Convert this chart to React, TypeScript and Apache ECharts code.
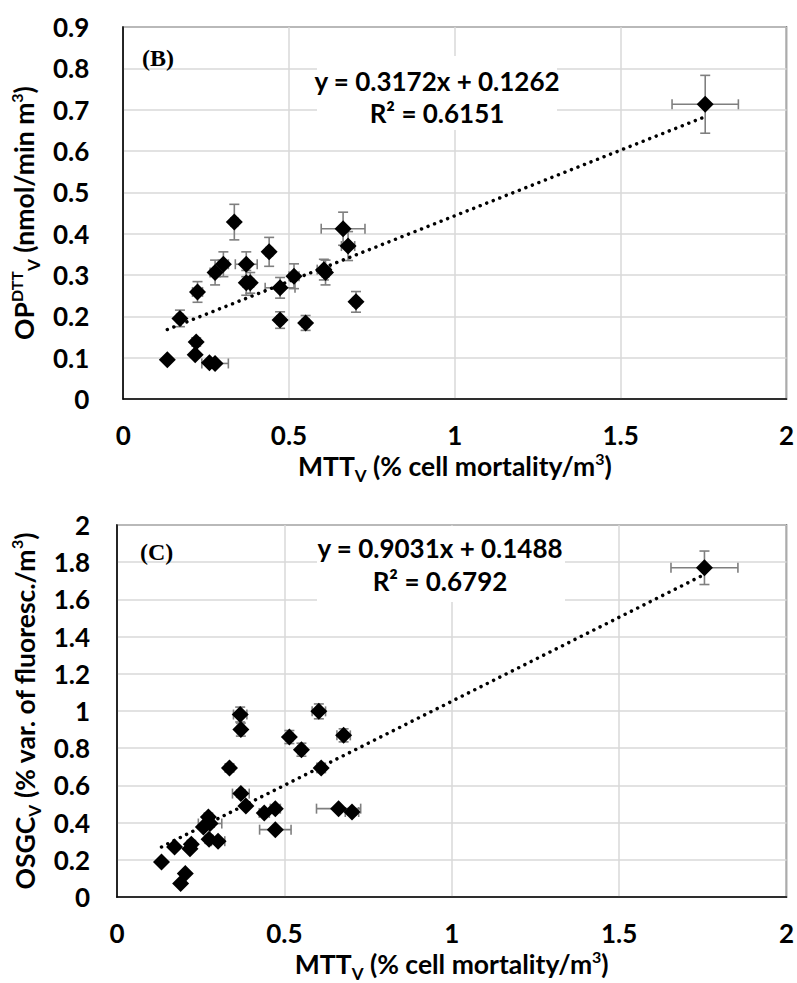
import React, { useEffect, useRef } from "react";
import * as echarts from "echarts";

// ---- Data ----
// Panel B: MTT_V vs OP^DTT_V
const bX = [0.133, 0.171, 0.22, 0.217, 0.26, 0.277, 0.224, 0.277, 0.302, 0.335, 0.371, 0.383, 0.371, 0.44, 0.473, 0.473, 0.515, 0.55, 0.605, 0.61, 0.663, 0.678, 0.702, 1.755];
const bY = [0.095, 0.195, 0.138, 0.107, 0.088, 0.086, 0.259, 0.306, 0.326, 0.428, 0.281, 0.281, 0.326, 0.356, 0.269, 0.191, 0.297, 0.184, 0.313, 0.306, 0.412, 0.37, 0.235, 0.713];
const bXErr = [0, 0.01, 0.01, 0, 0.005, 0.04, 0.015, 0.015, 0.015, 0.01, 0.01, 0.01, 0.033, 0.01, 0.045, 0.01, 0.015, 0.01, 0.02, 0.01, 0.066, 0.02, 0.01, 0.1];
const bYErr = [0, 0.02, 0.01, 0, 0, 0, 0.025, 0.03, 0.03, 0.043, 0.03, 0.025, 0.03, 0.035, 0.025, 0.02, 0.03, 0.018, 0.025, 0.03, 0.04, 0.035, 0.025, 0.07];
const bTrend = [[0.133, 0.168], [1.755, 0.683]];
const bEquation = "y = 0.3172x + 0.1262";
const bR2 = "R² = 0.6151";

// Panel C: MTT_V vs OSGC_V
const cX = [0.368, 0.37, 0.336, 0.515, 0.551, 0.603, 0.677, 0.61, 0.37, 0.385, 0.44, 0.473, 0.473, 0.662, 0.702, 0.273, 0.258, 0.278, 0.275, 0.302, 0.172, 0.222, 0.218, 0.133, 0.204, 0.19, 1.755];
const cY = [0.981, 0.9, 0.694, 0.86, 0.792, 0.998, 0.869, 0.694, 0.556, 0.489, 0.452, 0.475, 0.362, 0.475, 0.457, 0.43, 0.376, 0.395, 0.31, 0.3, 0.269, 0.283, 0.26, 0.188, 0.126, 0.072, 1.77];
const cXErr = [0.02, 0.01, 0.012, 0.01, 0.01, 0.02, 0.02, 0.012, 0.025, 0.005, 0.015, 0.015, 0.047, 0.066, 0.02, 0.01, 0.005, 0.035, 0.01, 0.02, 0.005, 0.01, 0.005, 0, 0, 0, 0.1];
const cYErr = [0.04, 0.035, 0.02, 0.035, 0.035, 0.04, 0.035, 0.025, 0.02, 0.01, 0.015, 0.02, 0.01, 0.01, 0.015, 0.02, 0.01, 0.02, 0.02, 0.01, 0.01, 0.02, 0.01, 0, 0.01, 0, 0.09];
const cTrend = [[0.133, 0.269], [1.755, 1.734]];
const cEquation = "y = 0.9031x + 0.1488";
const cR2 = "R² = 0.6792";

// Tick labels
const xTickLabels = ["0", "0.5", "1", "1.5", "2"];
const bYTickLabels = ["0", "0.1", "0.2", "0.3", "0.4", "0.5", "0.6", "0.7", "0.8", "0.9"];
const cYTickLabels = ["0", "0.2", "0.4", "0.6", "0.8", "1", "1.2", "1.4", "1.6", "1.8", "2"];

const FONT = "Lato";

function zip4(x: number[], y: number[], xe: number[], ye: number[]) {
  return x.map((v, i) => [v, y[i], xe[i], ye[i]]);
}

function errorRender(params: any, api: any) {
  const x = api.value(0);
  const y = api.value(1);
  const xe = api.value(2);
  const ye = api.value(3);
  const children: any[] = [];
  const cap = 5;
  const style = { stroke: "#7f7f7f", lineWidth: 1.6 };
  if (xe > 0) {
    const p1 = api.coord([x - xe, y]);
    const p2 = api.coord([x + xe, y]);
    children.push({ type: "line", shape: { x1: p1[0], y1: p1[1], x2: p2[0], y2: p2[1] }, style });
    children.push({ type: "line", shape: { x1: p1[0], y1: p1[1] - cap, x2: p1[0], y2: p1[1] + cap }, style });
    children.push({ type: "line", shape: { x1: p2[0], y1: p2[1] - cap, x2: p2[0], y2: p2[1] + cap }, style });
  }
  if (ye > 0) {
    const p1 = api.coord([x, y - ye]);
    const p2 = api.coord([x, y + ye]);
    children.push({ type: "line", shape: { x1: p1[0], y1: p1[1], x2: p2[0], y2: p2[1] }, style });
    children.push({ type: "line", shape: { x1: p1[0] - cap, y1: p1[1], x2: p1[0] + cap, y2: p1[1] }, style });
    children.push({ type: "line", shape: { x1: p2[0] - cap, y1: p2[1], x2: p2[0] + cap, y2: p2[1] }, style });
  }
  return { type: "group", children };
}

const axisNameRich = {
  base: { fontFamily: FONT, fontWeight: "bold", fontSize: 26.5, color: "#000", lineHeight: 32 },
  sub: { fontFamily: FONT, fontWeight: "bold", fontSize: 17, color: "#000", lineHeight: 17, verticalAlign: "bottom", padding: [0, 0, -2, 0] },
  sup: { fontFamily: FONT, fontWeight: "bold", fontSize: 16, color: "#000", lineHeight: 16, verticalAlign: "top", padding: [0, 0, 0, 0] },
};

function makeXAxis(gridIndex: number, labelMargin: number) {
  return {
    gridIndex,
    type: "value",
    min: 0,
    max: 2,
    interval: 0.5,
    axisLine: { show: true, lineStyle: { color: "#000", width: 1.6 } },
    axisTick: { show: false },
    splitLine: { show: true, lineStyle: { color: "#d9d9d9", width: 1.5 } },
    axisLabel: {
      margin: labelMargin,
      fontFamily: FONT,
      fontWeight: "bold",
      fontSize: 26,
      color: "#000",
      formatter: (v: number) => xTickLabels[Math.round(v / 0.5)] ?? "",
    },
    name: "{base|MTT}{sub|V}{base| (% cell mortality/m}{sup|3}{base|)}",
    nameLocation: "middle",
    nameGap: 51,
    nameTextStyle: { rich: axisNameRich },
  };
}

function makeYAxis(gridIndex: number, max: number, interval: number, labels: string[], labelMargin: number, name: string, nameGap: number) {
  return {
    gridIndex,
    type: "value",
    min: 0,
    max,
    interval,
    axisLine: { show: true, lineStyle: { color: "#000", width: 1.6 } },
    axisTick: { show: false },
    splitLine: { show: true, lineStyle: { color: "#d9d9d9", width: 1.5 } },
    axisLabel: {
      margin: labelMargin,
      fontFamily: FONT,
      fontWeight: "bold",
      fontSize: 26,
      color: "#000",
      formatter: (v: number) => labels[Math.round(v / interval)] ?? "",
    },
    name,
    nameLocation: "middle",
    nameRotate: 90,
    nameGap,
    nameTextStyle: { rich: axisNameRich },
  };
}

export default function App() {
  const ref = useRef<HTMLDivElement>(null);
  useEffect(() => {
    document.body.style.margin = "0";
    if (!ref.current) return;
    const chart = echarts.init(ref.current, null, { renderer: "svg" });
    const gridCommon = { left: 117, width: 671, height: 372, show: true, borderColor: "#262626", borderWidth: 1.5, backgroundColor: "#fff" };
    const option: any = {
      animation: false,
      backgroundColor: "#fff",
      grid: [
        { ...gridCommon, top: 27 },
        { ...gridCommon, top: 525 },
      ],
      xAxis: [makeXAxis(0, 23), makeXAxis(1, 23)],
      yAxis: [
        makeYAxis(0, 0.9, 0.1, bYTickLabels, 34, "{base|OP}{sup|DTT}{sub|V}{base| (nmol/min m}{sup|3}{base|)}", 75),
        makeYAxis(1, 2, 0.2, cYTickLabels, 27, "{base|OSGC}{sub|V}{base| (% var. of fluoresc./m}{sup|3}{base|)}", 75),
      ],
      series: [
        {
          type: "custom",
          xAxisIndex: 0,
          yAxisIndex: 0,
          renderItem: errorRender,
          data: zip4(bX, bY, bXErr, bYErr),
          z: 3,
        },
        {
          type: "line",
          xAxisIndex: 0,
          yAxisIndex: 0,
          data: bTrend,
          symbol: "none",
          lineStyle: { color: "#000", width: 3.5, type: [0.01, 7], cap: "round" },
          z: 4,
        },
        {
          type: "scatter",
          xAxisIndex: 0,
          yAxisIndex: 0,
          data: bX.map((v, i) => [v, bY[i]]),
          symbol: "diamond",
          symbolSize: 17,
          itemStyle: { color: "#000", opacity: 1 },
          z: 5,
        },
        {
          type: "custom",
          xAxisIndex: 1,
          yAxisIndex: 1,
          renderItem: errorRender,
          data: zip4(cX, cY, cXErr, cYErr),
          z: 3,
        },
        {
          type: "line",
          xAxisIndex: 1,
          yAxisIndex: 1,
          data: cTrend,
          symbol: "none",
          lineStyle: { color: "#000", width: 3.5, type: [0.01, 7], cap: "round" },
          z: 4,
        },
        {
          type: "scatter",
          xAxisIndex: 1,
          yAxisIndex: 1,
          data: cX.map((v, i) => [v, cY[i]]),
          symbol: "diamond",
          symbolSize: 17,
          itemStyle: { color: "#000", opacity: 1 },
          z: 5,
        },
      ],
      graphic: [
        { type: "rect", z: 10, shape: { x: 317, y: 56, width: 240, height: 74 }, style: { fill: "#fff" } },
        { type: "text", z: 11, x: 437, y: 81, style: { text: bEquation, fontFamily: FONT, fontWeight: "bold", fontSize: 26, fill: "#000", align: "center", verticalAlign: "middle" } },
        { type: "text", z: 11, x: 437, y: 113, style: { text: bR2, fontFamily: FONT, fontWeight: "bold", fontSize: 26, fill: "#000", align: "center", verticalAlign: "middle" } },
        { type: "text", z: 11, x: 142, y: 58, style: { text: "(B)", fontFamily: "Liberation Serif", fontWeight: "bold", fontSize: 24, fill: "#000", align: "left", verticalAlign: "middle" } },
        { type: "rect", z: 10, shape: { x: 317, y: 526, width: 248, height: 76 }, style: { fill: "#fff" } },
        { type: "text", z: 11, x: 440, y: 548, style: { text: cEquation, fontFamily: FONT, fontWeight: "bold", fontSize: 26, fill: "#000", align: "center", verticalAlign: "middle" } },
        { type: "text", z: 11, x: 440, y: 581, style: { text: cR2, fontFamily: FONT, fontWeight: "bold", fontSize: 26, fill: "#000", align: "center", verticalAlign: "middle" } },
        { type: "text", z: 11, x: 140, y: 552, style: { text: "(C)", fontFamily: "Liberation Serif", fontWeight: "bold", fontSize: 24, fill: "#000", align: "left", verticalAlign: "middle" } },
      ],
    };
    chart.setOption(option);
    return () => chart.dispose();
  }, []);
  return <div ref={ref} style={{ width: 797, height: 983 }} />;
}
